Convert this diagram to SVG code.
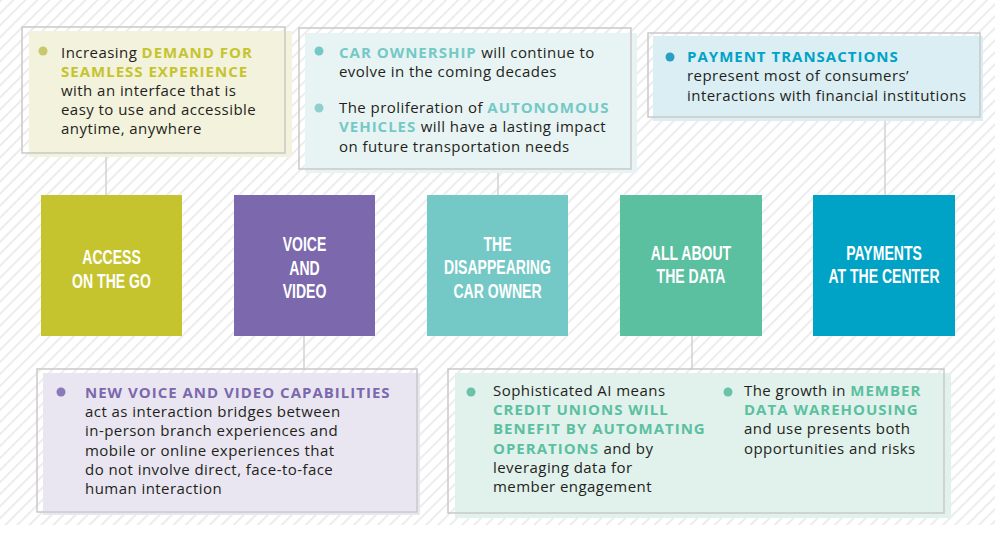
<svg xmlns="http://www.w3.org/2000/svg" width="1005" height="536" viewBox="0 0 1005 536">
<defs>
<pattern id="stripes" width="8.5" height="8.5" patternUnits="userSpaceOnUse" patternTransform="rotate(45)">
<rect x="0" y="0" width="2" height="8.5" fill="#ececec"/>
</pattern>
<style>
.outline{fill:none;stroke:#c9c9c9;stroke-width:1.5}
.body{font-family:"Open Sans","Liberation Sans",sans-serif;font-size:15px;fill:#231f20;letter-spacing:0.45px}
.b{font-weight:bold;letter-spacing:1px}
.sq{font-family:"Liberation Sans",Arial,sans-serif;font-weight:bold;font-size:19.5px;fill:#ffffff;text-anchor:middle}
.conn{stroke:#d2d2d2;stroke-width:1.5;fill:none}
</style>
</defs>
<rect x="0" y="0" width="1005" height="536" fill="#ffffff"/>
<rect x="0" y="0" width="995" height="525" fill="url(#stripes)"/>

<g id="connectors">
<line class="conn" x1="106" y1="153" x2="106" y2="195"/>
<line class="conn" x1="498" y1="169" x2="498" y2="195"/>
<line class="conn" x1="885" y1="117" x2="885" y2="195"/>
<line class="conn" x1="304" y1="336" x2="304" y2="370"/>
<line class="conn" x1="692" y1="336" x2="692" y2="370"/>
</g>

<g id="callout-access">
<rect x="29" y="31" width="263" height="126" fill="#f3f2dc"/>
<rect class="outline" x="22" y="27" width="263" height="126"/>
<circle cx="43" cy="51" r="4.5" fill="#c9c86a"/>
<text class="body">
<tspan x="61" y="58">Increasing <tspan class="b" fill="#c5c42e">DEMAND FOR</tspan></tspan>
<tspan x="61" y="77" class="b" fill="#c5c42e">SEAMLESS EXPERIENCE</tspan>
<tspan x="61" y="96">with an interface that is</tspan>
<tspan x="61" y="115">easy to use and accessible</tspan>
<tspan x="61" y="134">anytime, anywhere</tspan>
</text>
</g>

<g id="callout-car">
<rect x="305" y="33" width="332" height="140" fill="#e8f4f3"/>
<rect class="outline" x="299" y="28" width="332" height="141"/>
<circle cx="319" cy="51" r="4.5" fill="#74c9c6"/>
<circle cx="319" cy="108" r="4.5" fill="#8fcfcc"/>
<text class="body">
<tspan x="339" y="58"><tspan class="b" fill="#74c9c6">CAR OWNERSHIP</tspan> will continue to</tspan>
<tspan x="339" y="77">evolve in the coming decades</tspan>
<tspan x="339" y="113">The proliferation of <tspan class="b" fill="#74c9c6">AUTONOMOUS</tspan></tspan>
<tspan x="339" y="132"><tspan class="b" fill="#74c9c6">VEHICLES</tspan> will have a lasting impact</tspan>
<tspan x="339" y="152">on future transportation needs</tspan>
</text>
</g>

<g id="callout-payments">
<rect x="653" y="36" width="330" height="85" fill="#dbeef4"/>
<rect class="outline" x="648" y="33" width="332" height="84"/>
<circle cx="670" cy="57" r="4.5" fill="#2a9fc2"/>
<text class="body">
<tspan x="687" y="62" class="b" fill="#00a3c6">PAYMENT TRANSACTIONS</tspan>
<tspan x="687" y="81">represent most of consumers’</tspan>
<tspan x="687" y="101">interactions with financial institutions</tspan>
</text>
</g>

<g id="node-access">
<rect x="41" y="195" width="141" height="141" fill="#c5c42e"/>
<g transform="translate(111.5,0) scale(0.72,1)">
<text class="sq" x="0" y="264">ACCESS</text>
<text class="sq" x="0" y="288">ON THE GO</text>
</g>
</g>

<g id="node-voice">
<rect x="234" y="195" width="141" height="141" fill="#7b68ad"/>
<g transform="translate(304.5,0) scale(0.72,1)">
<text class="sq" x="0" y="251">VOICE</text>
<text class="sq" x="0" y="275">AND</text>
<text class="sq" x="0" y="298">VIDEO</text>
</g>
</g>

<g id="node-car">
<rect x="427" y="195" width="141" height="141" fill="#74c9c6"/>
<g transform="translate(497.5,0) scale(0.72,1)">
<text class="sq" x="0" y="251">THE</text>
<text class="sq" x="0" y="274">DISAPPEARING</text>
<text class="sq" x="0" y="298">CAR OWNER</text>
</g>
</g>

<g id="node-data">
<rect x="620" y="195" width="142" height="141" fill="#5bc0a0"/>
<g transform="translate(691,0) scale(0.72,1)">
<text class="sq" x="0" y="260">ALL ABOUT</text>
<text class="sq" x="0" y="283">THE DATA</text>
</g>
</g>

<g id="node-payments">
<rect x="813" y="195" width="142" height="141" fill="#00a3c6"/>
<g transform="translate(884,0) scale(0.72,1)">
<text class="sq" x="0" y="260">PAYMENTS</text>
<text class="sq" x="0" y="283">AT THE CENTER</text>
</g>
</g>

<g id="callout-voice">
<rect x="43" y="373" width="377" height="142" fill="#e9e6f1"/>
<rect class="outline" x="37" y="369" width="380" height="143"/>
<circle cx="61" cy="392" r="4.5" fill="#8a7bb8"/>
<text class="body">
<tspan x="85" y="398" class="b" fill="#7b68ad">NEW VOICE AND VIDEO CAPABILITIES</tspan>
<tspan x="85" y="417">act as interaction bridges between</tspan>
<tspan x="85" y="436">in-person branch experiences and</tspan>
<tspan x="85" y="456">mobile or online experiences that</tspan>
<tspan x="85" y="475">do not involve direct, face-to-face</tspan>
<tspan x="85" y="494">human interaction</tspan>
</text>
</g>

<g id="callout-data">
<rect x="455" y="373" width="496" height="145" fill="#e1f1ec"/>
<rect class="outline" x="448" y="369" width="496" height="144"/>
<circle cx="471" cy="392" r="4.5" fill="#6cc2a8"/>
<circle cx="728" cy="392" r="4.5" fill="#6cc2a8"/>
<text class="body">
<tspan x="493" y="396">Sophisticated AI means</tspan>
<tspan x="493" y="415" class="b" fill="#5bc0a0">CREDIT UNIONS WILL</tspan>
<tspan x="493" y="434" class="b" fill="#5bc0a0">BENEFIT BY AUTOMATING</tspan>
<tspan x="493" y="454"><tspan class="b" fill="#5bc0a0">OPERATIONS</tspan> and by</tspan>
<tspan x="493" y="473">leveraging data for</tspan>
<tspan x="493" y="492">member engagement</tspan>
</text>
<text class="body">
<tspan x="744" y="396">The growth in <tspan class="b" fill="#5bc0a0">MEMBER</tspan></tspan>
<tspan x="744" y="415" class="b" fill="#5bc0a0">DATA WAREHOUSING</tspan>
<tspan x="744" y="434">and use presents both</tspan>
<tspan x="744" y="454">opportunities and risks</tspan>
</text>
</g>
</svg>
